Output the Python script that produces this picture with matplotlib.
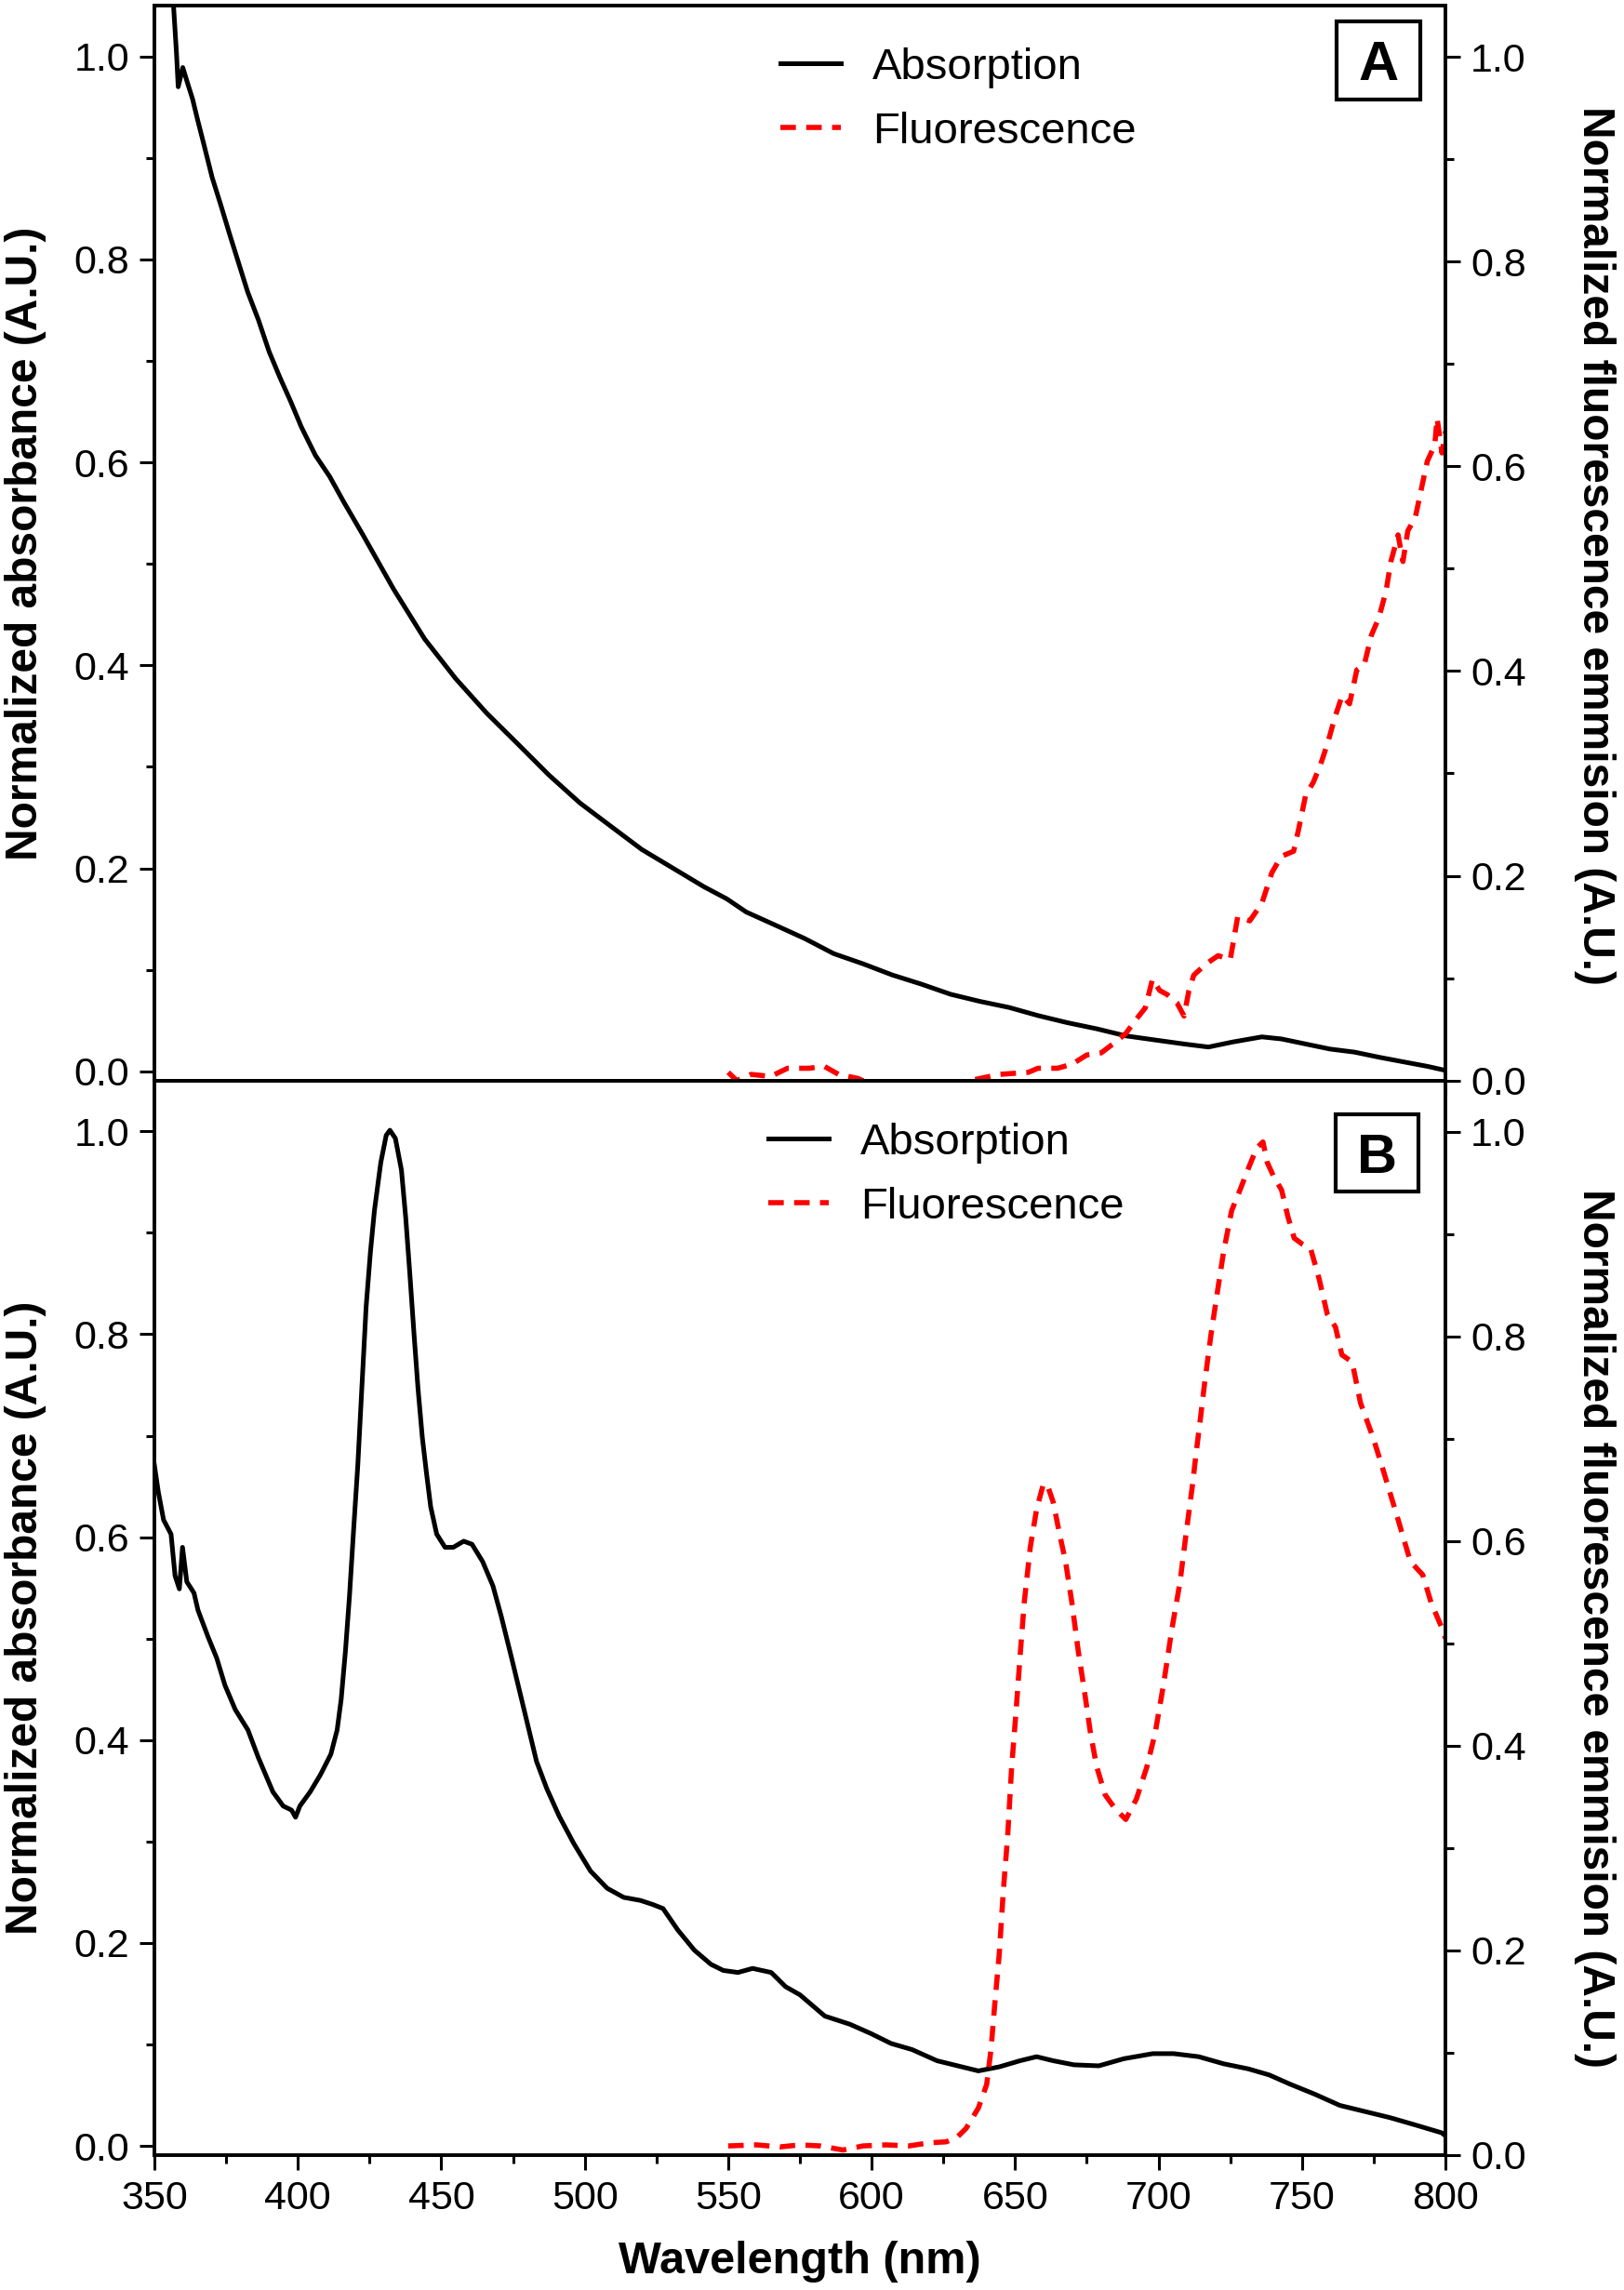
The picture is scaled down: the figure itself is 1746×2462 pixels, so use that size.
import matplotlib
matplotlib.use("Agg")
import matplotlib.pyplot as plt
from matplotlib.ticker import MultipleLocator, FormatStrFormatter
from matplotlib.patches import Rectangle

plt.rcParams['font.family'] = ['Liberation Sans', 'DejaVu Sans']

# ---- panel A ----
wl_abs_a = [350, 354, 356.6, 357.7, 358.3, 359.9, 361.4, 363.3, 365.1, 367,
            370.1, 373.2, 376.3, 379.4, 382.5, 386.3, 390, 393.7, 397.5, 401.2,
            406.1, 411.1, 416, 422.6, 433.4, 444.2, 455, 465.8, 476.7, 487.5,
            498.3, 509.1, 519.9, 530.7, 541.5, 549.5, 556.3, 566.5, 576.6, 586.8,
            597, 607.2, 617.3, 627.5, 637.7, 647.9, 658, 668.2, 678.4, 688.6,
            698.7, 708.9, 717.4, 725.9, 736, 742.8, 751.3, 759.8, 768.3, 776.8,
            785.2, 793.7, 800]
abs_a = [1.2, 1.1, 1.053, 1.003, 0.970, 0.989, 0.975, 0.958, 0.937, 0.916,
         0.881, 0.853, 0.824, 0.796, 0.768, 0.740, 0.709, 0.684, 0.660, 0.635,
         0.607, 0.586, 0.561, 0.529, 0.475, 0.426, 0.387, 0.353, 0.3225, 0.292,
         0.2645, 0.2415, 0.2186, 0.2003, 0.182, 0.170, 0.157, 0.144, 0.131, 0.116,
         0.106, 0.095, 0.086, 0.076, 0.069, 0.063, 0.055, 0.048, 0.042, 0.035,
         0.031, 0.027, 0.024, 0.029, 0.034, 0.032, 0.027, 0.022, 0.019, 0.014,
         0.0095, 0.005, 0.001]

wl_fl_a = [550, 553, 558, 564.8, 570.7, 578.3, 583.4, 588.5, 595.3, 600,
           615, 630, 634.3, 644.5, 654.6, 658, 664.8, 669.9, 675, 680,
           685.2, 688.6, 692, 695.4, 697.9, 700.4, 703, 706.4, 708.9, 710.6,
           712.3, 716.6, 720.8, 725, 727.6, 731.8, 736, 739.5, 742.8, 747.1,
           748.8, 751.3, 753.9, 756.4, 759, 761.5, 764, 766.6, 769.1, 771.7,
           774.2, 776.8, 779.3, 781, 783.5, 785.2, 786.9, 789.5, 792, 793.7,
           796.3, 797.1, 798.8, 800]
fl_a = [0.008, 0.0, 0.006, 0.004, 0.012, 0.012, 0.014, 0.006, 0.002, -0.004,
        -0.005, -0.004, 0.0, 0.006, 0.008, 0.012, 0.012, 0.016, 0.025, 0.027,
        0.038, 0.046, 0.059, 0.071, 0.099, 0.088, 0.084, 0.076, 0.063, 0.088,
        0.103, 0.114, 0.122, 0.118, 0.160, 0.156, 0.173, 0.203, 0.219, 0.224,
        0.245, 0.279, 0.291, 0.308, 0.330, 0.355, 0.376, 0.368, 0.401, 0.406,
        0.435, 0.452, 0.478, 0.507, 0.533, 0.507, 0.537, 0.550, 0.583, 0.605,
        0.621, 0.647, 0.613, 0.634]

# ---- panel B ----
wl_abs_b = [350, 351.4, 353.2, 355.8, 357.2, 358.7, 359.8, 361.3, 363.8, 365.2,
            368.8, 371.7, 374.6, 378.2, 382.6, 386.2, 391.3, 394.9, 397.8, 399.2,
            400.7, 404.3, 407.9, 411.5, 413.7, 415.1, 416.6, 418, 419.5, 420.9,
            422.4, 423.8, 425.3, 426.7, 428.9, 430.8, 432.1, 434, 436.1, 437.6,
            439, 440.5, 441.9, 443.4, 444.8, 446.3, 448.4, 451.3, 454.2, 457.8,
            460.7, 464.4, 468, 470.9, 474.5, 477.4, 480.3, 483.2, 486.8, 491.1,
            496.2, 502, 507.8, 513.6, 519.4, 523.7, 527.3, 532.4, 538.2, 544,
            548.3, 553.4, 558.5, 565, 570, 575, 583.7, 592.4, 599.6, 606.8,
            614.1, 622.8, 630, 637.2, 644.5, 651.7, 657.5, 663.3, 670.5, 679.2,
            687.9, 698, 705.3, 714, 722.7, 731.3, 738.6, 745.8, 754.5, 763.2,
            771.9, 780.6, 789.2, 798.7, 800]
abs_b = [0.671, 0.644, 0.617, 0.603, 0.562, 0.549, 0.590, 0.556, 0.545, 0.528,
         0.501, 0.481, 0.454, 0.430, 0.410, 0.383, 0.349, 0.335, 0.331, 0.324,
         0.335, 0.349, 0.366, 0.386, 0.410, 0.440, 0.488, 0.542, 0.610, 0.671,
         0.752, 0.827, 0.881, 0.922, 0.969, 0.996, 1.001, 0.993, 0.962, 0.915,
         0.861, 0.800, 0.746, 0.698, 0.664, 0.630, 0.603, 0.590, 0.590, 0.596,
         0.593, 0.576, 0.552, 0.522, 0.481, 0.447, 0.413, 0.379, 0.352, 0.325,
         0.298, 0.271, 0.254, 0.245, 0.242, 0.238, 0.234, 0.213, 0.193, 0.179,
         0.173, 0.171, 0.175, 0.171, 0.157, 0.149, 0.128, 0.120, 0.111, 0.101,
         0.095, 0.084, 0.079, 0.074, 0.078, 0.084, 0.088, 0.084, 0.080, 0.079,
         0.086, 0.091, 0.091, 0.088, 0.081, 0.076, 0.070, 0.061, 0.051, 0.040,
         0.034, 0.028, 0.021, 0.013, 0.010]

wl_fl_b = [550, 560, 568, 575, 582, 590, 597, 605, 613, 620,
           626, 630, 632.9, 637.2, 640.1, 641.6, 643, 644.5, 645.9, 647.4,
           648.8, 650.3, 651.7, 653.2, 655.3, 657.5, 659.7, 661.1, 663.3, 665.5,
           667.6, 669.8, 672, 674.2, 676.3, 678.5, 681.4, 685, 688.6, 692.3,
           695.9, 698.8, 701.7, 704.6, 707.5, 709.6, 711.8, 713.2, 714.7, 716.1,
           718.3, 720.5, 722.7, 725.5, 728.4, 731.3, 734.2, 736.4, 737.9, 740,
           742.9, 745.1, 747.3, 750.2, 753, 756, 758.8, 761.7, 763.9, 767.5,
           770.4, 774.8, 777.7, 780.6, 783.5, 787.8, 792.1, 795, 799.1, 800]
fl_b = [0.009, 0.010, 0.008, 0.010, 0.009, 0.005, 0.009, 0.010, 0.009, 0.012,
        0.013, 0.018, 0.026, 0.046, 0.069, 0.103, 0.150, 0.197, 0.258, 0.311,
        0.379, 0.432, 0.486, 0.540, 0.594, 0.631, 0.654, 0.656, 0.638, 0.607,
        0.580, 0.540, 0.493, 0.453, 0.412, 0.379, 0.352, 0.338, 0.328, 0.348,
        0.379, 0.412, 0.459, 0.513, 0.560, 0.607, 0.654, 0.688, 0.722, 0.755,
        0.802, 0.843, 0.883, 0.923, 0.943, 0.964, 0.984, 0.990, 0.970, 0.957,
        0.943, 0.917, 0.896, 0.890, 0.886, 0.856, 0.822, 0.809, 0.782, 0.775,
        0.735, 0.701, 0.675, 0.648, 0.621, 0.580, 0.567, 0.540, 0.513, 0.505]

labels = ['Absorption', 'Fluorescence']

W, H = 1746, 2462
fig = plt.figure(figsize=(W / 100, H / 100), dpi=100)


def fx(x):
    return x / W


def fy(y):
    return 1 - y / H


def setup(ax, tw, show_x):
    ax.set_xlim(350, 800)
    ax.set_ylim(-0.009, 1.05)
    tw.set_ylim(0, 1.05)
    ax.xaxis.set_major_locator(MultipleLocator(50))
    ax.xaxis.set_minor_locator(MultipleLocator(25))
    for a in (ax, tw):
        a.yaxis.set_major_locator(MultipleLocator(0.2))
        a.yaxis.set_minor_locator(MultipleLocator(0.1))
        a.yaxis.set_major_formatter(FormatStrFormatter('%.1f'))
        a.tick_params(which='both', direction='out', width=2.2, labelsize=31, pad=8)
        a.tick_params(which='major', length=11.5)
        a.tick_params(which='minor', length=6.8)
        for s in a.spines.values():
            s.set_linewidth(2.6)
    ax.tick_params(axis='x', top=False, labelbottom=show_x)
    tw.tick_params(axis='y', right=True, labelright=True, left=False)


def panel(rect, wl_abs, absv, wl_fl, flv, show_x, leg_xy, letter, box, let_xy):
    ax = fig.add_axes(rect)
    tw = ax.twinx()
    setup(ax, tw, show_x)
    l1, = ax.plot(wl_abs, absv, color='black', lw=3.6)
    l2, = tw.plot(wl_fl, flv, color='#ff0000', lw=4.0, ls='--', dashes=(3.0, 2.0))
    tw.legend([l1, l2], labels, loc='upper left', bbox_to_anchor=(fx(leg_xy[0]), fy(leg_xy[1])),
              bbox_transform=fig.transFigure, frameon=False, fontsize=34,
              handlelength=1.38, handletextpad=0.72, labelspacing=0.52,
              borderpad=0, borderaxespad=0)
    x0, y0, x1, y1 = box
    fig.add_artist(Rectangle((fx(x0), fy(y1)), fx(x1) - fx(x0), fy(y0) - fy(y1),
                             transform=fig.transFigure, fill=False, lw=3, ec='black'))
    fig.text(fx(let_xy[0]), fy(let_xy[1]), letter, ha='center', va='baseline',
             fontsize=43, fontweight='bold')
    return ax, tw


panel([0.09507, 0.52815, 0.79496, 0.46941], wl_abs_a, abs_a, wl_fl_a, fl_a, False,
      (839, 51), 'A', (1437, 22.7, 1526.5, 107.3), (1482, 86))
panel([0.09507, 0.05890, 0.79496, 0.46925], wl_abs_b, abs_b, wl_fl_b, fl_b, True,
      (826, 1207), 'B', (1436, 1198, 1525, 1281), (1480.5, 1261))

for yc_l, yc_r in ((584, 587), (1739, 1750)):
    fig.text(fx(28), fy(yc_l), 'Normalized absorbance (A.U.)', rotation=90,
             ha='center', va='center', fontsize=34.5, fontweight='bold')
    fig.text(fx(1714), fy(yc_r), 'Normalized fluorescence emmision (A.U.)', rotation=270,
             ha='center', va='center', fontsize=34.5, fontweight='bold')

fig.text(fx(860), fy(2444), 'Wavelength (nm)', ha='center', va='baseline',
         fontsize=35, fontweight='bold')

fig.savefig('out.png', dpi=100)
